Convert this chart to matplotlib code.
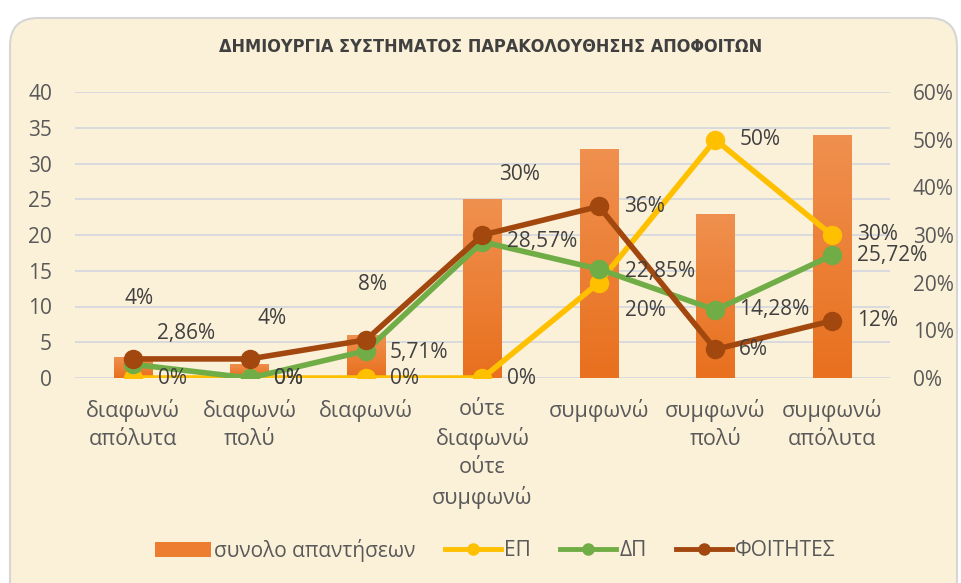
"""Bar + line combo: responses and percentages per answer category."""

import matplotlib.pyplot as plt
import numpy as np
from matplotlib.colors import LinearSegmentedColormap
from matplotlib.lines import Line2D
from matplotlib.patches import FancyBboxPatch, Patch

categories = [
    "διαφωνώ\nαπόλυτα",
    "διαφωνώ\nπολύ",
    "διαφωνώ",
    "ούτε\nδιαφωνώ\nούτε\nσυμφωνώ",
    "συμφωνώ",
    "συμφωνώ\nπολύ",
    "συμφωνώ\nαπόλυτα",
]
total_answers = [3, 2, 6, 25, 32, 23, 34]
ep_pct = [0, 0, 0, 0, 20, 50, 30]
dp_pct = [2.86, 0, 5.71, 28.57, 22.85, 14.28, 25.72]
students_pct = [4, 4, 8, 30, 36, 6, 12]

title = "ΔΗΜΙΟΥΡΓΙΑ ΣΥΣΤΗΜΑΤΟΣ ΠΑΡΑΚΟΛΟΥΘΗΣΗΣ ΑΠΟΦΟΙΤΩΝ"
series_names = ["συνολο απαντήσεων", "ΕΠ", "ΔΠ", "ΦΟΙΤΗΤΕΣ"]

# label offsets in pixels (dx, dy) from each point
ep_off = [(25, 0), (24, 0), (24, 0), (25, 0), (26, -28), (24, 0), (25, 0)]
dp_off = [(24, 31), (24, 0), (24, -2), (25, 0), (26, -2), (24, 0), (25, 0)]
st_off = [(-9, 60), (8, 40), (-8, 55), (17, 60), (25, 0), (24, 0), (25, 0)]

BG = "#FBF0D8"
TXT = "#595959"
LBL = "#404040"
FS = 15
plt.rcParams["font.family"] = ["Open Sans", "DejaVu Sans"]


def fmt_pct(v):
    s = f"{v:.2f}".rstrip("0").rstrip(".")
    return s.replace(".", ",") + "%"


fig = plt.figure(figsize=(9.62, 5.83), dpi=100)
fig.patch.set_facecolor("white")
frame = FancyBboxPatch(
    (0.1, -0.3), 9.47, 5.95,
    boxstyle="round,pad=0,rounding_size=0.28",
    transform=fig.dpi_scale_trans, facecolor=BG, edgecolor="#D6D6D6",
    lw=1.5, zorder=-5,
)
fig.patches.append(frame)

ax = fig.add_axes([75 / 962, 1 - 378 / 583, 815 / 962, 286 / 583])
ax.set_facecolor("none")
x = np.arange(len(categories))

bars = ax.bar(x, total_answers, width=0.33, color="#ED7D31", zorder=2)
grad = LinearSegmentedColormap.from_list("bar", ["#E8701E", "#F0904F"])
for b in bars:
    x0, y0 = b.get_x(), b.get_y()
    im = ax.imshow(
        np.linspace(0, 1, 64).reshape(-1, 1), cmap=grad, origin="lower",
        extent=[x0, x0 + b.get_width(), y0, y0 + b.get_height()],
        aspect="auto", zorder=2.1,
    )
    im.set_clip_path(b)

ax.set_xlim(-0.5, len(categories) - 0.5)
ax.set_ylim(0, 40)
ax.set_yticks(range(0, 41, 5))
ax.set_xticks(x)
ax.set_xticklabels(categories, linespacing=1.42)
ax.grid(axis="y", color="#D5D8DF", lw=1.3, zorder=0)
ax.set_axisbelow(True)
for sp in ax.spines.values():
    sp.set_visible(False)
ax.tick_params(axis="both", length=0, labelsize=FS, colors=TXT)
ax.tick_params(axis="y", pad=16.5)
ax.tick_params(axis="x", pad=15, labelsize=15.5)

ax2 = ax.twinx()
ax2.set_ylim(0, 60)
ax2.set_yticks(range(0, 61, 10))
ax2.set_yticklabels([f"{v}%" for v in range(0, 61, 10)])
for sp in ax2.spines.values():
    sp.set_visible(False)
ax2.tick_params(axis="y", length=0, labelsize=FS, colors=TXT, pad=16.5)

line_specs = [
    (ep_pct, "#FFC000", ep_off, 3),
    (dp_pct, "#70AD47", dp_off, 4),
    (students_pct, "#A2480F", st_off, 5),
]
for vals, col, offs, z in line_specs:
    ax2.plot(x, vals, color=col, lw=4, marker="o", ms=13,
             markeredgecolor=col, zorder=z, solid_capstyle="round")
    for xi, v, (dx, dy) in zip(x, vals, offs):
        ax2.annotate(fmt_pct(v), (xi, v), xytext=(dx, dy),
                     textcoords="offset pixels", ha="left", va="center",
                     fontsize=FS, color=LBL, zorder=6)

fig.text(0.51, 1 - 47 / 583, title, ha="center", va="center",
         fontsize=13, fontweight="bold", color=LBL,
         family="DejaVu Sans", fontstretch="condensed")

handles = [Patch(facecolor="#ED7D31", edgecolor="none")]
for _, col, _, _ in line_specs:
    handles.append(Line2D([], [], color=col, lw=3.5, marker="o", ms=8))
fig.legend(handles, series_names, loc="center", bbox_to_anchor=(0.515, 1 - 550 / 583),
           ncol=4, frameon=False, fontsize=FS, handlelength=2.7,
           handletextpad=0.15, columnspacing=1.4, labelcolor=TXT)

fig.savefig("out.png", dpi=100, facecolor=fig.get_facecolor())
